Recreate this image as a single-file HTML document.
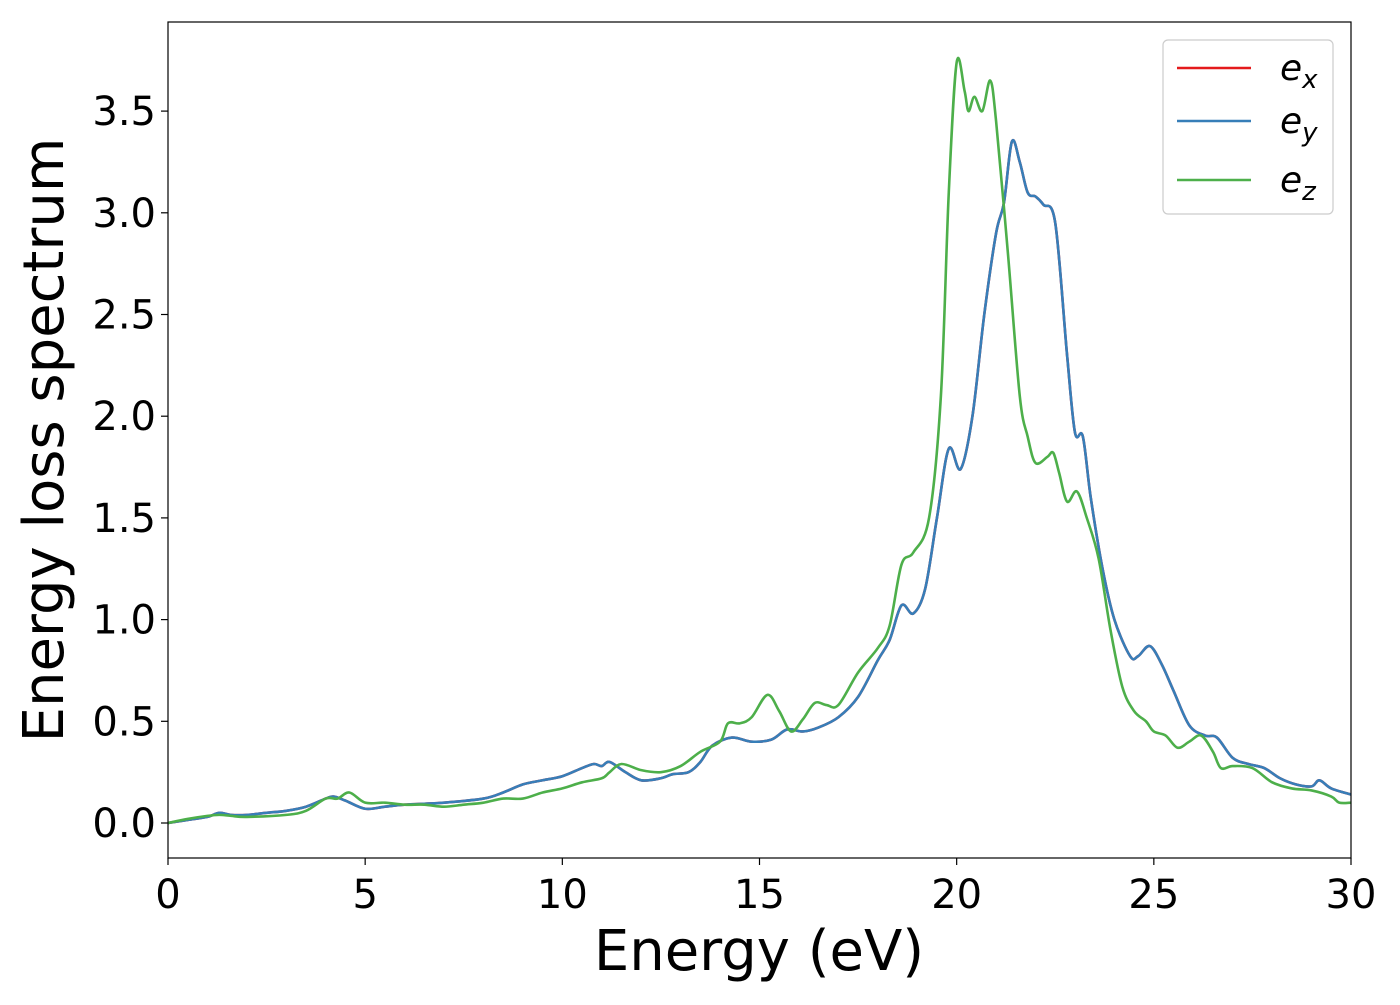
<!DOCTYPE html>
<html><head><meta charset="utf-8"><style>
body{margin:0;background:#fff;}
svg text{font-family:"DejaVu Sans","Liberation Sans",sans-serif;fill:#000;}
</style></head><body>
<svg id="chart" width="1400" height="1000" xmlns="http://www.w3.org/2000/svg">
<g id="plot"></g>
</svg>
<script>
const xTicks=[0,5,10,15,20,25,30];
const yTicks=[0.0,0.5,1.0,1.5,2.0,2.5,3.0,3.5];
const xyE=[0,0.5,1,1.3,1.6,2,2.5,3,3.5,4,4.2,4.5,5,5.5,6,7,8,8.5,9,9.5,10,10.5,10.8,11,11.2,11.6,12,12.5,12.8,13.2,13.5,13.8,14.3,14.8,15.3,15.7,16.1,16.5,17,17.5,18,18.3,18.6,18.9,19.2,19.5,19.8,20.1,20.4,20.7,21.0,21.2,21.4,21.6,21.8,22.0,22.2,22.5,22.8,23.0,23.2,23.4,23.7,24.0,24.4,24.6,24.9,25.2,25.5,25.9,26.3,26.6,27.0,27.4,27.8,28.2,28.6,29.0,29.2,29.5,30];
const xyV=[0,0.015,0.03,0.05,0.04,0.04,0.05,0.06,0.08,0.12,0.13,0.11,0.07,0.08,0.09,0.1,0.12,0.15,0.19,0.21,0.23,0.27,0.29,0.28,0.30,0.25,0.21,0.22,0.24,0.25,0.3,0.38,0.42,0.4,0.41,0.46,0.45,0.47,0.52,0.62,0.8,0.9,1.07,1.03,1.15,1.5,1.84,1.74,2.0,2.5,2.9,3.05,3.35,3.25,3.1,3.08,3.04,2.95,2.3,1.92,1.9,1.6,1.25,1.0,0.82,0.82,0.87,0.78,0.65,0.48,0.43,0.42,0.32,0.29,0.27,0.22,0.19,0.18,0.21,0.17,0.14];
const zE=[0,0.5,1,1.3,1.6,2,3,3.5,4,4.3,4.6,5,5.5,6,6.5,7,7.5,8,8.5,9,9.5,10,10.5,11,11.2,11.5,12,12.5,13,13.5,14,14.2,14.5,14.8,15.2,15.5,15.8,16.1,16.4,16.7,17,17.5,18,18.3,18.6,18.9,19.3,19.6,19.8,20.0,20.2,20.3,20.45,20.65,20.85,21.0,21.3,21.6,21.8,22.0,22.3,22.45,22.6,22.8,23.05,23.3,23.6,23.9,24.2,24.5,24.8,25.0,25.3,25.6,25.9,26.2,26.5,26.7,27,27.5,28,28.5,29,29.5,29.7,30];
const zV=[0,0.02,0.035,0.04,0.035,0.03,0.04,0.06,0.12,0.12,0.15,0.1,0.1,0.09,0.09,0.08,0.09,0.1,0.12,0.12,0.15,0.17,0.2,0.22,0.25,0.29,0.26,0.25,0.28,0.35,0.4,0.49,0.49,0.52,0.63,0.55,0.45,0.51,0.59,0.58,0.58,0.74,0.86,0.97,1.27,1.33,1.5,2.1,3.1,3.74,3.6,3.5,3.57,3.5,3.65,3.45,2.8,2.1,1.9,1.77,1.8,1.82,1.72,1.58,1.63,1.5,1.3,0.95,0.67,0.55,0.5,0.45,0.43,0.37,0.4,0.43,0.35,0.27,0.28,0.27,0.2,0.17,0.16,0.13,0.1,0.1];
const L=168,R=1351,T=22,B=858;
const sx=v=>L+(v-0)/30*(R-L);
const sy=v=>823-v*203.4;
const NS="http://www.w3.org/2000/svg";
const g=document.getElementById('plot');
function mk(t,a){const e=document.createElementNS(NS,t);for(const k in a)e.setAttribute(k,a[k]);g.appendChild(e);return e;}
function path(xs,ys){
  const p=xs.map((x,i)=>[sx(x),sy(ys[i])]);
  let d=`M${p[0][0]},${p[0][1]}`;
  for(let i=0;i<p.length-1;i++){
    const p0=p[i-1]||p[i],p1=p[i],p2=p[i+1],p3=p[i+2]||p2;
    const c1=[p1[0]+(p2[0]-p0[0])/6,p1[1]+(p2[1]-p0[1])/6];
    const c2=[p2[0]-(p3[0]-p1[0])/6,p2[1]-(p3[1]-p1[1])/6];
    d+=`C${c1[0]},${c1[1]} ${c2[0]},${c2[1]} ${p2[0]},${p2[1]}`;
  }
  return d;
}
const clip=document.createElementNS(NS,'clipPath');clip.setAttribute('id','cp');
const cr=document.createElementNS(NS,'rect');cr.setAttribute('x',L);cr.setAttribute('y',T);cr.setAttribute('width',R-L);cr.setAttribute('height',B-T);clip.appendChild(cr);g.appendChild(clip);
const series=[['e-x-line',xyE,xyV,'#e41a1c'],['e-y-line',xyE,xyV,'#377eb8'],['e-z-line',zE,zV,'#4daf4a']];
series.forEach(s=>{
  const e=mk('path',{d:path(s[1],s[2]),fill:'none',stroke:s[3],'stroke-width':2.6,'clip-path':'url(#cp)'});
  
  
});
const frame=mk('rect',{x:L,y:T,width:R-L,height:B-T,fill:'none',stroke:'#000','stroke-width':1.2});


xTicks.forEach(v=>{
  mk('line',{x1:sx(v),x2:sx(v),y1:B,y2:B+7,stroke:'#000','stroke-width':1.2});
  const t=mk('text',{x:sx(v),y:908,'font-size':40,'text-anchor':'middle'});t.textContent=v;
  
  
});
yTicks.forEach(v=>{
  mk('line',{x1:L-7,x2:L,y1:sy(v),y2:sy(v),stroke:'#000','stroke-width':1.2});
  const t=mk('text',{x:156,y:sy(v)+14,'font-size':40,'text-anchor':'end'});t.textContent=v.toFixed(1);
  
  
});
const xt=mk('text',{x:759,y:970,'font-size':56,'text-anchor':'middle'});xt.textContent='Energy (eV)';


const yt=mk('text',{x:0,y:0,'font-size':56,'text-anchor':'middle',transform:'translate(63,440) rotate(-90)'});yt.textContent='Energy loss spectrum';


const lg=mk('rect',{x:1163,y:40,width:170,height:174,rx:5,fill:'#fff',stroke:'#ccc','stroke-width':1.2});


const labs=['x','y','z'];
series.forEach((s,i)=>{
  const y=[68,121,180][i];
  mk('line',{x1:1177,x2:1251,y1:y,y2:y,stroke:s[3],'stroke-width':2.6});
  const t=mk('text',{x:1280,y:y+12,'font-size':36,'font-style':'italic'});
  t.textContent='e';
  const sub=document.createElementNS(NS,'tspan');sub.setAttribute('font-size',26);sub.setAttribute('dy',8);sub.textContent=labs[i];t.appendChild(sub);
  
  
});
</script>
</body></html>
